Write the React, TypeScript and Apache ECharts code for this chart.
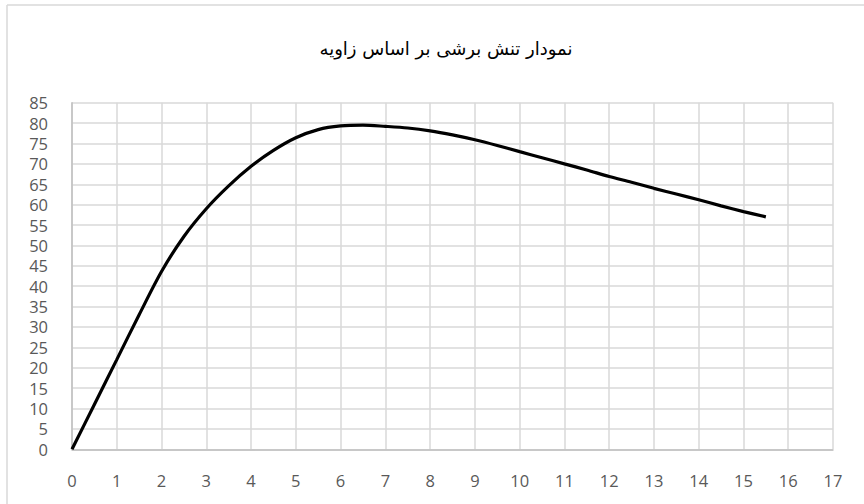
import React, { useEffect, useRef } from "react";
import * as echarts from "echarts";

const titleText = "نمودار تنش برشی بر اساس زاویه";
const angles = [0, 0.5, 1, 1.5, 2, 2.5, 3, 3.5, 4, 4.5, 5, 5.5, 6, 6.5, 7, 7.5, 8, 8.5, 9, 9.5, 10, 10.5, 11, 11.5, 12, 12.5, 13, 13.5, 14, 14.5, 15, 15.5];
const stress = [0, 11.0, 22.0, 33.0, 43.6, 52.2, 59.0, 64.6, 69.4, 73.3, 76.4, 78.4, 79.3, 79.5, 79.2, 78.8, 78.1, 77.1, 75.9, 74.5, 73.0, 71.5, 70.0, 68.5, 66.9, 65.5, 64.0, 62.6, 61.2, 59.7, 58.3, 57.0];
const xMin = 0, xMax = 17, xStep = 1;
const yMin = 0, yMax = 85, yStep = 5;

export default function App() {
  const ref = useRef<HTMLDivElement>(null);
  useEffect(() => {
    if (!ref.current) return;
    const chart = echarts.init(ref.current, undefined, { renderer: "svg" });
    const labelFont = { color: "#595959", fontSize: 16.5, lineHeight: 16, fontFamily: "Open Sans, Liberation Sans, sans-serif" };
    chart.setOption({
      animation: false,
      backgroundColor: "#ffffff",
      title: {
        text: titleText,
        left: 441,
        textAlign: "center",
        top: 34,
        textStyle: { color: "#000000", fontSize: 18, fontWeight: "normal", fontFamily: "DejaVu Serif, DejaVu Sans, serif" },
      },
      graphic: [
        { type: "line", shape: { x1: 7, y1: 5, x2: 7, y2: 520 }, style: { stroke: "#d9d9d9", lineWidth: 1.5 } },
        { type: "line", shape: { x1: 7, y1: 5, x2: 900, y2: 5 }, style: { stroke: "#d9d9d9", lineWidth: 1.5 } },
      ],
      grid: { left: 72, right: 31, top: 102.7, bottom: 54.7, containLabel: false },
      xAxis: {
        type: "value",
        min: xMin,
        max: xMax,
        interval: xStep,
        axisLine: { show: true, lineStyle: { color: "#bfbfbf", width: 1.5 } },
        axisTick: { show: false },
        splitLine: { show: true, lineStyle: { color: "#d9d9d9", width: 1.5 } },
        axisLabel: { ...labelFont, margin: 23 },
      },
      yAxis: {
        type: "value",
        min: yMin,
        max: yMax,
        interval: yStep,
        axisLine: { show: true, lineStyle: { color: "#bfbfbf", width: 1.5 } },
        axisTick: { show: false },
        splitLine: { show: true, lineStyle: { color: "#d9d9d9", width: 1.5 } },
        axisLabel: { ...labelFont, margin: 24 },
      },
      series: [
        {
          type: "line",
          data: angles.map((a, i) => [a, stress[i]]),
          smooth: 0.3,
          showSymbol: false,
          lineStyle: { color: "#000000", width: 3.2 },
        },
      ],
    });
    return () => chart.dispose();
  }, []);
  return <div ref={ref} style={{ width: 864, height: 504, position: "absolute", left: 0, top: 0 }} />;
}
